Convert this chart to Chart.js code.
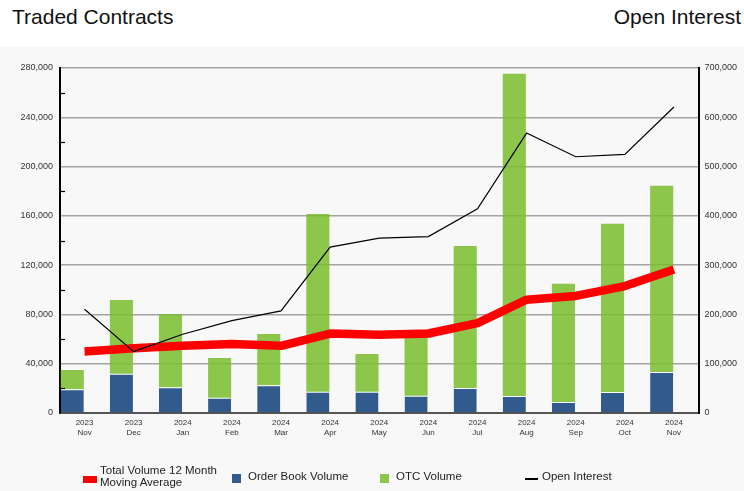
<!DOCTYPE html>
<html>
<head>
<meta charset="utf-8">
<script src="https://cdn.jsdelivr.net/npm/chart.js@4.4.0/dist/chart.umd.min.js"></script>
<style>
body { margin:0; width:744px; height:491px; background:#fff; overflow:hidden; position:relative;
       font-family:"Liberation Sans", Arial, sans-serif; }
.title { position:absolute; top:6px; font-size:21px; line-height:21px; color:#111; }
#band { position:absolute; left:0; top:47px; width:744px; height:444px; background:#f8f8f8; }
#plot { position:absolute; left:0; top:0; }
.leg { position:absolute; font-size:11.5px; line-height:12px; color:#222; }
.sw { position:absolute; }
</style>
</head>
<body>
<div id="band"></div>
<div class="title" style="left:12px">Traded Contracts</div>
<div class="title" style="right:3px">Open Interest</div>
<canvas id="plot" width="744" height="491"></canvas>
<div id="legend"></div>
<script>
// months shown on the x axis (year, month)
const months = [
    ['2023','Nov'], ['2023','Dec'], ['2024','Jan'], ['2024','Feb'], ['2024','Mar'], ['2024','Apr'],
    ['2024','May'], ['2024','Jun'], ['2024','Jul'], ['2024','Aug'], ['2024','Sep'], ['2024','Oct'], ['2024','Nov']
];
const orderBookVolume = [19250, 31900, 20900, 12400, 22500, 17300, 17300, 14100, 20300, 13800, 8900, 17000, 33300];
const otcVolume = [15650, 59900, 59500, 32300, 41700, 144300, 30600, 47900, 115300, 261500, 95900, 136500, 151100];
const movingAverage = [50000, 52500, 54500, 56000, 54500, 64500, 63500, 64500, 73000, 92000, 95000, 103000, 116500];
const openInterest = [210600, 124500, 159800, 187500, 207200, 336500, 354700, 358000, 414300, 568000, 519900, 524600, 620800];

const leftMax = 280000, leftStep = 40000;
const rightMax = 700000, rightStep = 100000;

// small inward ticks between the labelled ones on the left axis
const minorTicks = {
    id: 'minorTicks',
    afterDraw(chart) {
        const y = chart.scales.y, ctx = chart.ctx;
        ctx.save();
        ctx.strokeStyle = '#000';
        ctx.lineWidth = 1.2;
        for (let v = leftStep / 2; v < leftMax; v += leftStep) {
            const py = Math.round(y.getPixelForValue(v)) + 0.5;
            ctx.beginPath();
            ctx.moveTo(chart.chartArea.left, py);
            ctx.lineTo(chart.chartArea.left + 5, py);
            ctx.stroke();
        }
        ctx.restore();
    }
};

const fmt = v => Number(v).toLocaleString('en-US');

var chart = new Chart(document.getElementById('plot').getContext('2d'), {
    type: 'bar',
    data: {
        labels: months,
        datasets: [
            { type: 'line', label: 'Total Volume 12 Month Moving Average', data: movingAverage, yAxisID: 'y',
              borderColor: '#ff0000', borderWidth: 8.5, pointRadius: 0, tension: 0,
              borderJoinStyle: 'round', order: 1 },
            { label: 'Order Book Volume', data: orderBookVolume, yAxisID: 'y', stack: 'vol',
              backgroundColor: 'rgba(13,63,121,0.85)', borderColor: '#ffffff',
              borderWidth: {top: 1, left: 0, right: 0, bottom: 0}, order: 2 },
            { label: 'OTC Volume', data: otcVolume, yAxisID: 'y', stack: 'vol',
              backgroundColor: 'rgba(121,189,45,0.85)', borderWidth: 0, order: 2 },
            { type: 'line', label: 'Open Interest', data: openInterest, yAxisID: 'y1',
              borderColor: '#000', borderWidth: 1.2, pointRadius: 0, tension: 0, order: 0 },
            // empty group so the bars sit in the left half of each month
            { label: '', data: months.map(() => null), yAxisID: 'y', stack: 'gap', order: 3 }
        ]
    },
    options: {
        responsive: false,
        animation: false,
        layout: { padding: { top: 68, left: 0, right: 0, bottom: 0 } },
        datasets: { bar: { categoryPercentage: 1.0, barPercentage: 0.94 } },
        plugins: { legend: { display: false }, tooltip: { enabled: false } },
        scales: {
            x: {
                stacked: true,
                grid: { display: false, drawTicks: false },
                border: { color: '#555', width: 2 },
                ticks: { color: '#333', font: { family: 'Liberation Sans', size: 8 }, padding: 5,
                         maxRotation: 0, autoSkip: false },
                afterFit: s => { s.height = 78; }
            },
            y: {
                stacked: true, position: 'left', min: 0, max: leftMax,
                grid: { color: '#a4a4a4', lineWidth: 1.5, drawTicks: false },
                border: { color: '#000', width: 2 },
                ticks: { stepSize: leftStep, color: '#333', font: { family: 'Liberation Sans', size: 9 },
                         padding: 7, callback: fmt },
                afterFit: s => { s.width = 60; }
            },
            y1: {
                position: 'right', min: 0, max: rightMax,
                grid: { display: false, drawTicks: false },
                border: { color: '#000', width: 2 },
                ticks: { stepSize: rightStep, color: '#333', font: { family: 'Liberation Sans', size: 9 },
                         padding: 6, callback: fmt },
                afterFit: s => { s.width = 45.5; }
            }
        }
    },
    plugins: [minorTicks]
});

// html legend built from the datasets
const legendX = [83, 232, 380, 525];
function buildLegend() {
    const box = document.getElementById('legend');
    let i = 0;
    chart.data.datasets.forEach(ds => {
        if (!ds.label) return;
        const x = legendX[i++];
        const sw = document.createElement('div');
        sw.className = 'sw';
        const txt = document.createElement('div');
        txt.className = 'leg';
        txt.textContent = ds.label;
        if (ds.type === 'line' && ds.borderWidth > 4) {
            Object.assign(sw.style, { left: x + 'px', top: '476px', width: '14px', height: '7px', background: ds.borderColor });
            Object.assign(txt.style, { left: (x + 17) + 'px', top: '464px', width: '125px' });
        } else if (ds.type === 'line') {
            Object.assign(sw.style, { left: x + 'px', top: '478px', width: '13px', height: '1.5px', background: ds.borderColor });
            Object.assign(txt.style, { left: (x + 17) + 'px', top: '470px' });
        } else {
            Object.assign(sw.style, { left: x + 'px', top: '474px', width: '9px', height: '9px', background: ds.backgroundColor });
            Object.assign(txt.style, { left: (x + 16) + 'px', top: '470px' });
        }
        box.appendChild(sw);
        box.appendChild(txt);
    });
}
buildLegend();
</script>
</body>
</html>
